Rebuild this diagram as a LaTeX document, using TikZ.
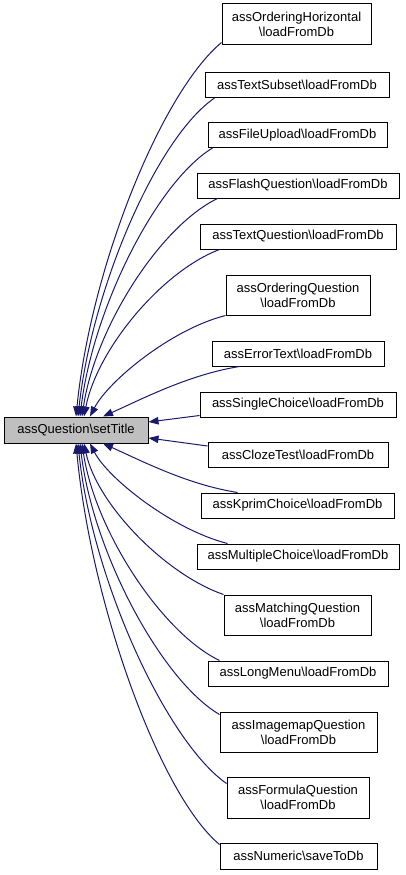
\documentclass[tikz,border=0pt]{standalone}
\usepackage{fontspec}
\setmainfont{Liberation Sans}
\usetikzlibrary{arrows.meta}
\definecolor{edgeblue}{HTML}{191970}
\definecolor{mainfill}{HTML}{BFBFBF}
\newcommand{\bs}{\textbackslash{}}
\tikzset{
  box/.style={draw=black, fill=white, line width=1pt, inner sep=0pt, align=center,
    font=\fontsize{13}{15}\selectfont, minimum height=25pt},
  tallbox/.style={box, minimum height=41pt},
  mainbox/.style={box, fill=mainfill, minimum height=26pt},
  edge/.style={draw=edgeblue, line width=1pt, -{Triangle[length=10pt,width=7.5pt]}}
}
\begin{document}
\begin{tikzpicture}[x=1pt, y=-1pt]
\useasboundingbox (0,0) rectangle (405,875);
\node[mainbox, minimum width=144pt] (main) at (76,430) {assQuestion\bs setTitle};
\node[tallbox, minimum width=149pt] (t1) at (296.5,24.5) {assOrderingHorizontal\\\bs loadFromDb};
\node[box, minimum width=184pt] (t2) at (297,85) {assTextSubset\bs loadFromDb};
\node[box, minimum width=179pt] (t3) at (297.5,135) {assFileUpload\bs loadFromDb};
\node[box, minimum width=202pt] (t4) at (298,185.5) {assFlashQuestion\bs loadFromDb};
\node[box, minimum width=196pt] (t5) at (298,236.5) {assTextQuestion\bs loadFromDb};
\node[tallbox, minimum width=144pt, minimum height=40pt] (t6) at (298,295) {assOrderingQuestion\\\bs loadFromDb};
\node[box, minimum width=172pt] (t7) at (298,353.5) {assErrorText\bs loadFromDb};
\node[box, minimum width=196pt] (t8) at (298,404.5) {assSingleChoice\bs loadFromDb};
\node[box, minimum width=180pt] (t9) at (298,455) {assClozeTest\bs loadFromDb};
\node[box, minimum width=193pt] (t10) at (297.5,505.5) {assKprimChoice\bs loadFromDb};
\node[box, minimum width=202pt] (t11) at (298,556.5) {assMultipleChoice\bs loadFromDb};
\node[tallbox, minimum width=147pt, minimum height=40pt] (t12) at (297.5,615) {assMatchingQuestion\\\bs loadFromDb};
\node[box, minimum width=180pt] (t13) at (298,673.5) {assLongMenu\bs loadFromDb};
\node[tallbox, minimum width=157pt, minimum height=40pt] (t14) at (298.5,732) {assImagemapQuestion\\\bs loadFromDb};
\node[tallbox, minimum width=142pt] (t15) at (298,797.5) {assFormulaQuestion\\\bs loadFromDb};
\node[box, minimum width=157pt, minimum height=26pt] (t16) at (298.5,856) {assNumeric\bs saveToDb};

\draw[edge] ([shift={(0,-3)}]t1.south west) .. controls +(-60,50) and +(15,-150) .. (main.north);
\draw[edge] ([shift={(10,0)}]t2.south west) .. controls +(-58,40) and +(14,-128) .. ([shift={(2,0)}]main.north);
\draw[edge] ([shift={(5,0)}]t3.south west) .. controls +(-56,34) and +(13,-108) .. ([shift={(4,0)}]main.north);
\draw[edge] ([shift={(21,0)}]t4.south west) .. controls +(-58,28) and +(13,-88) .. ([shift={(6,0)}]main.north);
\draw[edge] ([shift={(20,0)}]t5.south west) .. controls +(-58,22) and +(13,-67) .. ([shift={(8,0)}]main.north);
\draw[edge] (t6.south west) .. controls +(-55,14) and +(18,-35) .. ([shift={(14,0)}]main.north);
\draw[edge] ([shift={(28,0)}]t7.south west) .. controls +(-50,8) and +(40,-18) .. ([shift={(27,0)}]main.north);
\draw[edge] ([shift={(0,-2)}]t8.south west) -- ([shift={(0,-8)}]main.east);
\draw[edge] ([shift={(0,4)}]t9.north west) -- ([shift={(0,8)}]main.east);
\draw[edge] ([shift={(37,0)}]t10.north west) .. controls +(-50,-8) and +(40,18) .. ([shift={(27,0)}]main.south);
\draw[edge] ([shift={(31,0)}]t11.north west) .. controls +(-55,-14) and +(18,35) .. ([shift={(14,0)}]main.south);
\draw[edge] (t12.north west) .. controls +(-58,-20) and +(13,61) .. ([shift={(8,0)}]main.south);
\draw[edge] ([shift={(12,0)}]t13.north west) .. controls +(-58,-28) and +(13,87) .. ([shift={(6,0)}]main.south);
\draw[edge] ([shift={(0,3)}]t14.north west) .. controls +(-58,-34) and +(13,109) .. ([shift={(4,0)}]main.south);
\draw[edge] ([shift={(0,7)}]t15.north west) .. controls +(-60,-42) and +(14,136) .. ([shift={(2,0)}]main.south);
\draw[edge] ([shift={(0,2)}]t16.north west) .. controls +(-60,-50) and +(15,160) .. (main.south);
\end{tikzpicture}
\end{document}
